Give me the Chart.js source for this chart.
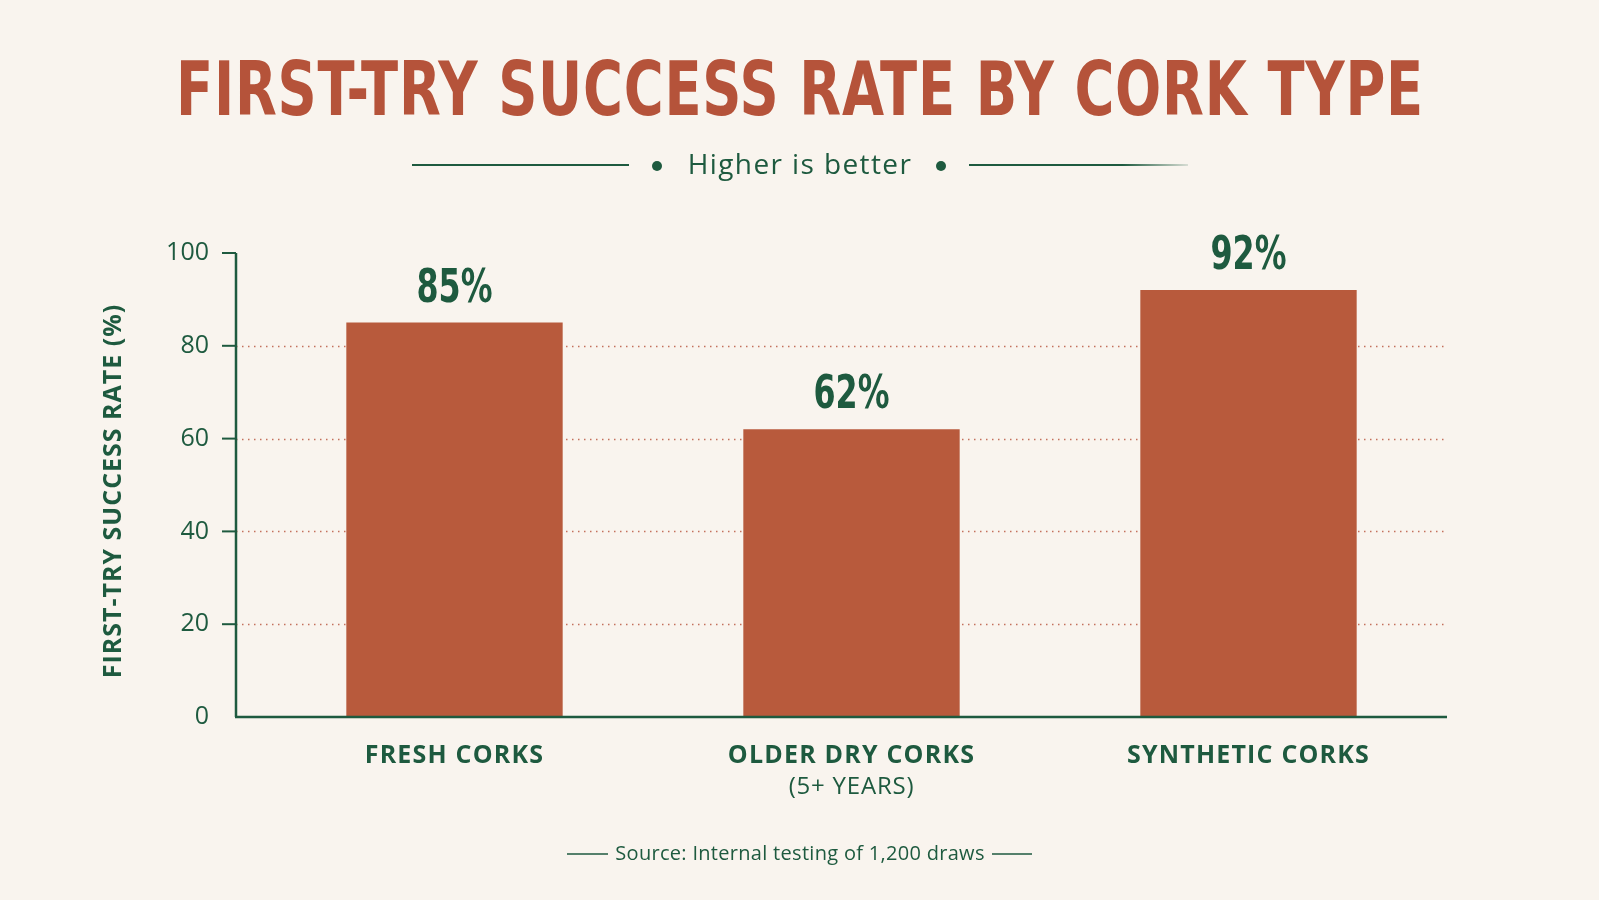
<!DOCTYPE html>
<html>
<head>
<meta charset="utf-8">
<script src="https://cdn.jsdelivr.net/npm/chart.js@4/dist/chart.umd.min.js"></script>
<style>
  html, body { margin: 0; padding: 0; background: #F9F4EE; }
  #wrap { width: 1599px; height: 900px; }
</style>
</head>
<body>
<div id="wrap"><canvas id="c" width="1599" height="900"></canvas></div>
<script>
// ---- Data ----
const categories = [["FRESH CORKS"], ["OLDER DRY CORKS", "(5+ YEARS)"], ["SYNTHETIC CORKS"]];
const successRates = [85, 62, 92];
const yTickValues = [0, 20, 40, 60, 80, 100];
const titleText = "FIRST-TRY SUCCESS RATE BY CORK TYPE";
const subtitleText = "Higher is better";
const sourceText = "Source: Internal testing of 1,200 draws";
const yAxisTitle = "FIRST-TRY SUCCESS RATE (%)";

// ---- Styles ----
const BG = "#F9F4EE";
const GREEN = "#1E5A3F";
const RUST = "#B85A3C";
const TITLE_RUST = "#B5533A";
const GRID = "#C4705C";
const SANS = "'Open Sans', 'Noto Sans', sans-serif";
const NARROW = "'Liberation Sans Narrow', 'DejaVu Sans Condensed', sans-serif";
const AXIS_OFFSET = 20;

const decor = {
  id: "decor",
  beforeDraw(chart) {
    const ctx = chart.ctx;
    ctx.save();
    ctx.fillStyle = BG;
    ctx.fillRect(0, 0, chart.width, chart.height);
    ctx.restore();
  },
  beforeDatasetsDraw(chart) {
    const {ctx, chartArea} = chart;
    const y = chart.scales.y;
    const axisX = chartArea.left - AXIS_OFFSET;
    ctx.save();
    ctx.strokeStyle = GRID;
    ctx.lineWidth = 1.5;
    ctx.setLineDash([1.5, 4.5]);
    yTickValues.forEach(v => {
      if (v <= 0 || v >= 100) return;
      const py = Math.round(y.getPixelForValue(v)) + 0.5;
      ctx.beginPath();
      ctx.moveTo(axisX, py);
      ctx.lineTo(chartArea.right, py);
      ctx.stroke();
    });
    ctx.restore();
  },
  afterDatasetsDraw(chart) {
    const {ctx, chartArea} = chart;
    const y = chart.scales.y;
    const x = chart.scales.x;
    const axisX = chartArea.left - AXIS_OFFSET;
    ctx.save();
    ctx.strokeStyle = GREEN;
    ctx.lineWidth = 2.5;
    // y axis line
    ctx.beginPath();
    ctx.moveTo(axisX, y.getPixelForValue(100));
    ctx.lineTo(axisX, y.getPixelForValue(0));
    ctx.stroke();
    // x axis line
    ctx.beginPath();
    ctx.moveTo(axisX - 1, y.getPixelForValue(0));
    ctx.lineTo(chartArea.right, y.getPixelForValue(0));
    ctx.stroke();
    // tick marks
    ctx.lineWidth = 2;
    yTickValues.forEach(v => {
      if (v === 0) return;
      const py = y.getPixelForValue(v);
      ctx.beginPath();
      ctx.moveTo(axisX - 14, py);
      ctx.lineTo(axisX, py);
      ctx.stroke();
    });
    // value labels
    const meta = chart.getDatasetMeta(0);
    ctx.fillStyle = GREEN;
    ctx.font = "bold 47px " + NARROW;
    ctx.textAlign = "center";
    ctx.textBaseline = "alphabetic";
    meta.data.forEach((bar, i) => {
      ctx.fillText(successRates[i] + "%", bar.x, bar.y - 21, 76);
    });
    // category labels
    ctx.textBaseline = "middle";
    categories.forEach((lines, i) => {
      const px = x.getPixelForValue(i);
      lines.forEach((line, j) => {
        ctx.letterSpacing = j === 0 ? "1.2px" : "0.8px";
        ctx.font = (j === 0 ? "bold " : "500 ") + (j === 0 ? "25px " : "24px ") + SANS;
        ctx.fillText(line, px, 756 + j * 31);
      });
    });
    // y axis title
    ctx.save();
    ctx.letterSpacing = "1px";
    ctx.font = "bold 25px " + SANS;
    ctx.translate(114, (y.getPixelForValue(100) + y.getPixelForValue(0)) / 2 + 6);
    ctx.rotate(-Math.PI / 2);
    ctx.fillText(yAxisTitle, 0, 0);
    ctx.restore();
    ctx.restore();
  },
  afterDraw(chart) {
    const ctx = chart.ctx;
    ctx.save();
    // Title
    ctx.fillStyle = TITLE_RUST;
    ctx.font = "bold 75px " + NARROW;
    ctx.textAlign = "center";
    ctx.textBaseline = "alphabetic";
    ctx.letterSpacing = "1px";
    ctx.fillText(titleText, 800, 115, 1248);
    // Subtitle
    ctx.fillStyle = GREEN;
    ctx.letterSpacing = "1.4px";
    ctx.font = "500 28px " + SANS;
    ctx.textBaseline = "middle";
    ctx.fillText(subtitleText, 800, 166);
    ctx.letterSpacing = "0px";
    ctx.strokeStyle = GREEN;
    ctx.lineWidth = 2;
    ctx.beginPath(); ctx.moveTo(412, 165); ctx.lineTo(629, 165); ctx.stroke();
    const g = ctx.createLinearGradient(969, 0, 1188, 0);
    g.addColorStop(0, GREEN); g.addColorStop(0.7, GREEN); g.addColorStop(1, "rgba(30,90,63,0.15)");
    ctx.strokeStyle = g;
    ctx.beginPath(); ctx.moveTo(969, 165); ctx.lineTo(1188, 165); ctx.stroke();
    ctx.beginPath(); ctx.arc(657, 166, 5, 0, Math.PI * 2); ctx.fill();
    ctx.beginPath(); ctx.arc(941, 166, 5, 0, Math.PI * 2); ctx.fill();
    // Source
    ctx.letterSpacing = "0.3px";
    ctx.font = "20px " + SANS;
    ctx.fillText(sourceText, 800, 854);
    ctx.strokeStyle = GREEN;
    ctx.lineWidth = 1.5;
    ctx.beginPath(); ctx.moveTo(567, 854); ctx.lineTo(608, 854); ctx.stroke();
    ctx.beginPath(); ctx.moveTo(992, 854); ctx.lineTo(1032, 854); ctx.stroke();
    ctx.restore();
  }
};

new Chart(document.getElementById("c"), {
  type: "bar",
  data: {
    labels: categories,
    datasets: [{
      data: successRates,
      backgroundColor: RUST,
      borderWidth: 0,
      categoryPercentage: 1.0,
      barPercentage: 0.545
    }]
  },
  options: {
    responsive: false,
    animation: false,
    devicePixelRatio: 1,
    layout: { padding: { left: 0, right: 152, top: 253, bottom: 0 } },
    plugins: { legend: { display: false }, tooltip: { enabled: false }, title: { display: false } },
    scales: {
      x: {
        type: "category",
        grid: { display: false },
        border: { display: false },
        ticks: { display: false },
        afterFit(scale) { scale.height = 183; }
      },
      y: {
        min: 0,
        max: 100,
        grid: { display: false },
        border: { display: false },
        ticks: {
          stepSize: 20,
          color: GREEN,
          font: { family: SANS, size: 25 },
          padding: 39
        },
        afterFit(scale) { scale.width = 256; }
      }
    }
  },
  plugins: [decor]
});
</script>
</body>
</html>
